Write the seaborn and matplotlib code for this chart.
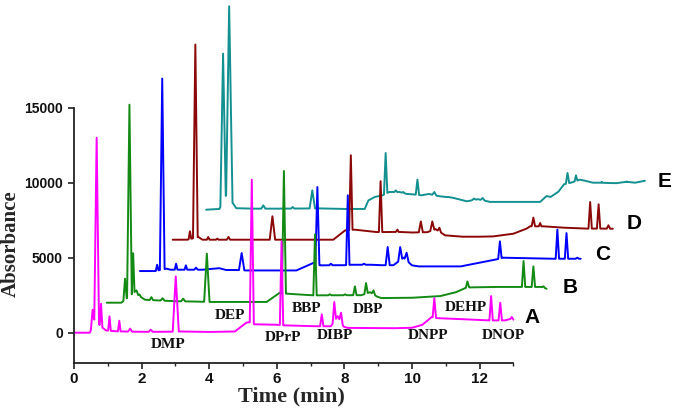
"""Stacked HPLC chromatograms of phthalate esters (traces A-E)."""

import matplotlib
matplotlib.use("Agg")
import matplotlib.pyplot as plt
import numpy as np
import pandas as pd
import seaborn as sns

# --- trace A (standards, no offset) ---
A_base_t = [0.00, 0.47, 0.60, 0.86, 0.95, 1.20, 1.50, 2.00, 2.60, 3.20, 4.00, 4.76, 5.10, 5.18,
            5.34, 6.00, 6.22, 7.00, 7.26, 7.60, 7.80, 7.98, 8.10, 9.50, 10.00, 10.30, 10.58,
            10.75, 11.50, 12.28, 12.47, 12.75, 12.88, 13.00]
A_base_y = [0, 0, 870, 300, 150, 100, 80, 60, 60, 80, 50, 80, 670, 700,
            560, 530, 490, 440, 430, 430, 1100, 400, 320, 300, 330, 520, 1040,
            970, 900, 820, 820, 820, 900, 870]
A_peak_t = [0.55, 0.67, 0.80, 1.05, 1.34, 1.66, 2.27, 3.01, 5.26, 6.14, 7.33, 7.70, 7.90,
            10.66, 12.34, 12.61, 12.95]
A_peak_top = [1530, 13000, 1930, 1090, 800, 270, 200, 3750, 10200, 6090, 1220, 2040, 1330,
              2310, 2440, 2000, 1040]
A_peak_hw = [0.05, 0.07, 0.04, 0.04, 0.04, 0.06, 0.06, 0.09, 0.06, 0.05, 0.05, 0.05, 0.05,
             0.05, 0.05, 0.05, 0.05]

# --- trace B ---
B_base_t = [0.97, 1.40, 1.85, 1.90, 2.10, 2.50, 3.00, 3.50, 3.85, 4.05, 5.00, 5.70, 6.09,
            6.30, 7.08, 7.20, 8.20, 8.50, 8.76, 8.97, 9.09, 10.00, 10.83, 11.30, 11.57,
            11.70, 12.50, 13.22, 13.45, 13.72, 13.82, 13.98]
B_base_y = [2000, 2000, 2820, 2500, 2200, 2150, 2100, 2080, 2060, 2050, 2050, 2050, 2670,
            2600, 2490, 2490, 2500, 2500, 2700, 2400, 2310, 2330, 2440, 2700, 2970,
            3020, 3050, 3050, 3050, 3050, 3050, 2930]
B_peak_t = [1.51, 1.64, 1.75, 1.94, 2.29, 2.62, 3.23, 3.93, 6.21, 7.13, 7.57, 8.02, 8.31,
            8.64, 8.86, 11.64, 13.30, 13.59, 13.89]
B_peak_top = [3600, 15200, 5300, 2550, 2370, 2300, 2270, 5270, 10780, 6550, 2560, 2560, 3090,
              3310, 2820, 3420, 4780, 4420, 3090]
B_peak_hw = [0.05, 0.07, 0.04, 0.04, 0.05, 0.06, 0.06, 0.08, 0.06, 0.05, 0.05, 0.05, 0.05,
             0.05, 0.05, 0.05, 0.05, 0.05, 0.05]

# --- trace C ---
C_base_t = [1.95, 2.40, 2.74, 2.85, 3.45, 3.80, 4.30, 4.50, 4.80, 5.10, 6.58, 7.10, 7.28,
            7.80, 8.00, 8.20, 8.80, 9.10, 9.45, 9.75, 10.00, 10.20, 11.44, 12.50, 12.68,
            14.20, 14.45, 14.70, 14.99]
C_base_y = [4110, 4110, 4270, 4200, 4200, 4200, 4300, 4180, 4180, 4150, 4150, 4670, 4490,
            4500, 4500, 4530, 4530, 4500, 4500, 5000, 4490, 4420, 4420, 4890, 5000,
            4930, 4930, 4930, 4930]
C_peak_t = [2.46, 2.61, 3.02, 3.31, 3.61, 4.96, 7.20, 7.60, 8.10, 8.58, 9.28, 9.65, 9.84,
            12.60, 14.30, 14.57, 14.89]
C_peak_top = [4530, 16940, 4600, 4490, 4340, 5310, 9710, 4600, 9160, 4600, 5710, 5710, 5330,
              6090, 6870, 6640, 5000]
C_peak_hw = [0.04, 0.07, 0.04, 0.04, 0.05, 0.08, 0.06, 0.05, 0.05, 0.05, 0.06, 0.06, 0.06,
             0.05, 0.05, 0.05, 0.05]

# --- trace D ---
D_base_t = [2.92, 3.35, 3.68, 3.80, 4.10, 4.40, 4.80, 5.70, 6.05, 7.67, 8.02, 8.30, 8.95,
            9.20, 9.60, 10.00, 10.45, 10.70, 10.98, 11.50, 12.00, 12.40, 13.00, 13.39,
            13.50, 13.68, 13.90, 14.50, 15.17, 15.40, 15.65, 15.94]
D_base_y = [6200, 6200, 6380, 6200, 6200, 6200, 6200, 6200, 6200, 6200, 6820, 6870, 6710,
            6710, 6720, 6680, 6700, 6900, 6490, 6400, 6400, 6420, 6600, 6940,
            7100, 7090, 7090, 7000, 6940, 6940, 6940, 6930]
D_peak_t = [3.43, 3.59, 3.97, 4.24, 4.57, 5.87, 8.19, 9.07, 9.57, 10.26, 10.60, 10.81,
            13.59, 13.79, 15.27, 15.52, 15.81]
D_peak_top = [6760, 19210, 6380, 6270, 6380, 7760, 11830, 10100, 6870, 7420, 7420, 7000,
              7670, 7310, 8710, 8560, 7160]
D_peak_hw = [0.04, 0.07, 0.04, 0.04, 0.05, 0.08, 0.05, 0.05, 0.05, 0.06, 0.06, 0.05,
             0.05, 0.04, 0.05, 0.05, 0.05]

# --- trace E ---
E_base_t = [3.91, 4.30, 4.50, 4.71, 4.80, 5.30, 6.00, 6.80, 7.20, 8.00, 8.60, 8.71, 8.90,
            9.12, 9.32, 9.63, 9.85, 10.05, 10.28, 10.50, 10.80, 11.20, 11.62, 11.95, 12.31,
            13.79, 13.98, 14.10, 14.33, 14.50, 14.70, 14.96, 15.12, 15.35, 15.61, 15.80,
            16.05, 16.35, 16.60, 16.89]
E_base_y = [8200, 8250, 9160, 8600, 8300, 8270, 8270, 8280, 8290, 8250, 8250, 8820, 9050,
            9150, 9380, 9380, 9250, 9220, 9160, 9250, 9100, 9000, 8760, 8900, 8720,
            8720, 9110, 9050, 9400, 9900, 10000, 10200, 10130, 10000, 10000, 9980,
            9970, 10060, 10000, 10130]
E_peak_t = [4.41, 4.59, 5.60, 6.47, 7.05, 9.22, 9.52, 9.74, 10.16, 10.66, 11.08, 11.83,
            12.09, 14.60, 14.85, 15.61, 16.35]
E_peak_top = [18610, 21760, 8490, 8380, 9490, 11980, 9490, 9380, 10200, 9380, 9050, 8940,
              8980, 10650, 10490, 10050, 10080]
E_peak_hw = [0.08, 0.10, 0.06, 0.05, 0.08, 0.05, 0.04, 0.04, 0.05, 0.06, 0.05, 0.06,
             0.06, 0.05, 0.04, 0.04, 0.04]

TRACE_COLORS = {"A": "#FF00FF", "B": "#138A13", "C": "#0000FF", "D": "#8B0808", "E": "#159090"}

# compound annotations (name, time, absorbance)
compound_names = ["DMP", "DEP", "DPrP", "BBP", "DIBP", "DBP", "DNPP", "DEHP", "DNOP"]
compound_t = [2.79, 4.62, 6.19, 6.88, 7.72, 8.69, 10.46, 11.60, 12.70]
compound_y = [-780, 1150, -290, 1600, -180, 1530, -180, 1710, -180]

trace_labels = ["A", "B", "C", "D", "E"]
trace_label_t = [13.54, 14.67, 15.64, 16.57, 17.47]
trace_label_y = [1000, 3000, 5200, 7310, 10050]


def build_trace(base_t, base_y, peak_t, peak_top, peak_hw):
    """Merge baseline knots with triangular peak apexes into one polyline."""
    t, y = list(base_t), list(base_y)
    for pt, top, hw in zip(peak_t, peak_top, peak_hw):
        for ft in (pt - hw, pt + hw):
            t.append(ft)
            y.append(float(np.interp(ft, base_t, base_y)))
        t.append(pt)
        y.append(top)
    order = np.argsort(t, kind="stable")
    return np.asarray(t)[order], np.asarray(y)[order]


traces = {
    "A": (A_base_t, A_base_y, A_peak_t, A_peak_top, A_peak_hw),
    "B": (B_base_t, B_base_y, B_peak_t, B_peak_top, B_peak_hw),
    "C": (C_base_t, C_base_y, C_peak_t, C_peak_top, C_peak_hw),
    "D": (D_base_t, D_base_y, D_peak_t, D_peak_top, D_peak_hw),
    "E": (E_base_t, E_base_y, E_peak_t, E_peak_top, E_peak_hw),
}
frames = []
for name, args in traces.items():
    tt, yy = build_trace(*args)
    frames.append(pd.DataFrame({"trace": name, "time": tt, "absorbance": yy}))
df = pd.concat(frames, ignore_index=True)

sns.set_style("white")
fig = plt.figure(figsize=(6.75, 4.12), dpi=100)
ax = fig.add_axes([74 / 675, 49.3 / 412, 601 / 675, 362.7 / 412])

sns.lineplot(data=df, x="time", y="absorbance", hue="trace", hue_order=["E", "D", "C", "B", "A"],
             palette=TRACE_COLORS, estimator=None, sort=False, legend=False, linewidth=1.4, ax=ax)

ax.set_xlim(0, 17.78)
ax.set_ylim(-2000, 22180)
ax.spines[["top", "right"]].set_visible(False)
for side in ("left", "bottom"):
    ax.spines[side].set_color("#222222")
    ax.spines[side].set_linewidth(1.3)
ax.spines["bottom"].set_bounds(0, 13)
ax.spines["left"].set_bounds(-2000, 15000)

ax.set_xticks(np.arange(0, 13, 2))
ax.set_xticks(np.arange(1, 14, 2), minor=True)
ax.set_yticks([0, 5000, 10000, 15000])
ax.tick_params(which="both", bottom=True, left=True, top=False, right=False)
ax.tick_params(which="major", direction="out", length=4, width=1.2, color="#222222")
ax.tick_params(which="minor", axis="x", direction="out", length=2.5, width=1.0, color="#222222")
ax.tick_params(axis="x", pad=3)
ax.tick_params(axis="y", pad=4)
for lab in ax.get_xticklabels():
    lab.set_fontfamily("Liberation Sans")
    lab.set_fontweight("bold")
    lab.set_fontsize(11)
    lab.set_color("#111111")
for lab in ax.get_yticklabels():
    lab.set_fontfamily("Liberation Sans")
    lab.set_fontweight("bold")
    lab.set_fontsize(10)
    lab.set_color("#111111")

ax.set_xlabel("Time (min)", fontfamily="Liberation Serif", fontweight="bold", fontsize=16)
ax.set_ylabel("Absorbance", fontfamily="Liberation Serif", fontweight="bold", fontsize=15)
ax.xaxis.label.set_verticalalignment("center")
ax.yaxis.label.set_verticalalignment("center")
ax.xaxis.set_label_coords(0.361, -0.094)
ax.yaxis.set_label_coords(-0.105, 0.327)

for name, t, y in zip(compound_names, compound_t, compound_y):
    ax.text(t, y, name, ha="center", va="center", fontfamily="Liberation Serif",
            fontweight="bold", fontsize=11, color="#111111")
for name, t, y in zip(trace_labels, trace_label_t, trace_label_y):
    ax.text(t, y, name, ha="center", va="center", fontfamily="Liberation Sans",
            fontweight="bold", fontsize=15, color="black", clip_on=False)

fig.savefig("out.png", dpi=100)
